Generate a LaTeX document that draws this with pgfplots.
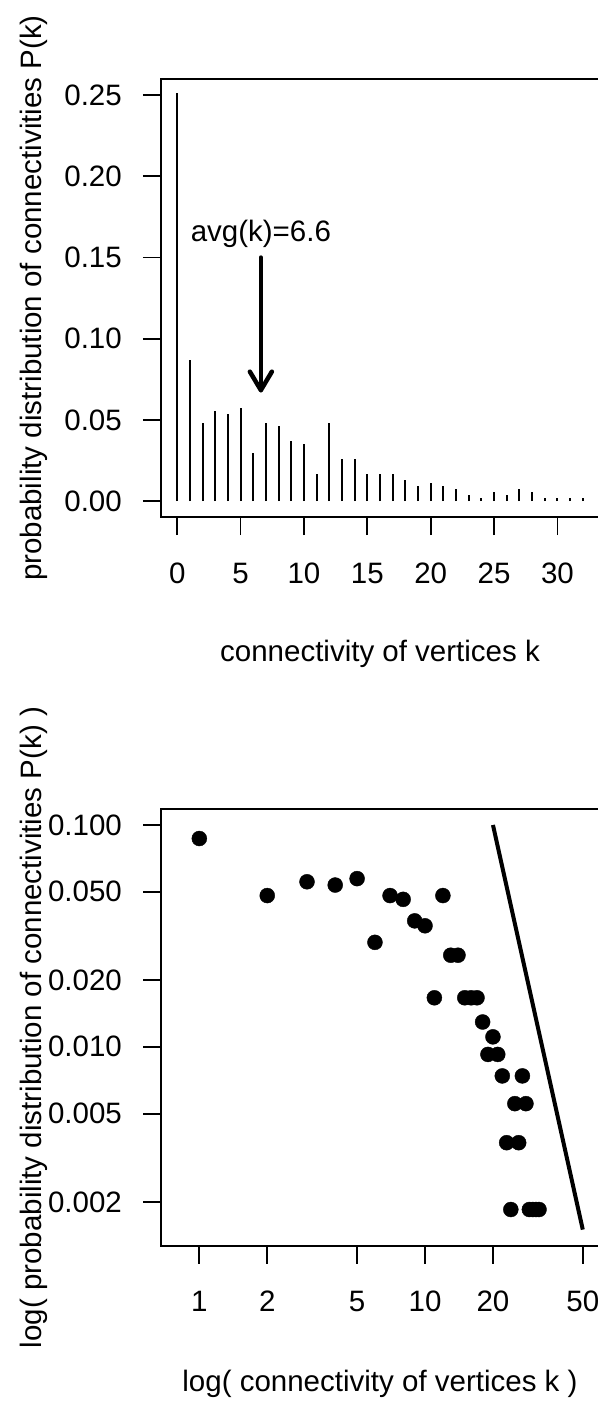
\documentclass[border=0pt]{standalone}
\usepackage{fontspec}
\setmainfont{Liberation Sans}
\usepackage{pgfplots}
\usepackage{pgfplotstable}
\pgfplotsset{compat=1.18}

% degree distribution of the network: k and P(k) = n_k / 541
\pgfplotstableread{
k p
0 0.251386
1 0.086876
2 0.048059
3 0.055453
4 0.053604
5 0.057301
6 0.029575
7 0.048059
8 0.046211
9 0.036969
10 0.035120
11 0.016636
12 0.048059
13 0.025878
14 0.025878
15 0.016636
16 0.016636
17 0.016636
18 0.012939
19 0.009242
20 0.011091
21 0.009242
22 0.007394
23 0.003697
24 0.001848
25 0.005545
26 0.003697
27 0.007394
28 0.005545
29 0.001848
30 0.001848
31 0.001848
32 0.001848
}\degdist

% reference power-law line
\pgfplotstableread{
k p
20 0.1
50 0.0015
}\powerline

\pgfplotsset{
  rstyle/.style={
    scale only axis,
    axis line style={line width=1.8bp},
    tick style={line width=1.8bp, black},
    tick align=outside,
    major tick length=18bp,
    xtick pos=bottom, ytick pos=left,
    /pgf/number format/assume math mode=true,
    xticklabel style={anchor=base, inner sep=0pt, yshift=-48bp},
    yticklabel style={anchor=east, inner sep=0pt, xshift=-21bp},
  },
}

\begin{document}
\fontsize{29.5bp}{35bp}\selectfont
\begin{tikzpicture}
\useasboundingbox (0,0) rectangle (598bp,-1401bp);

\begin{axis}[rstyle,
  at={(161bp,-79bp)}, anchor=north west,
  width=438bp, height=438bp,
  xmin=-1.28, xmax=33.28, ymin=-0.00985, ymax=0.26,
  xtick={0,5,10,15,20,25,30},
  xticklabels={0,5,10,15,20,25,30},
  ytick={0,0.05,0.1,0.15,0.2,0.25},
  yticklabels={0.00,0.05,0.10,0.15,0.20,0.25},
  xlabel={connectivity of vertices k},
  ylabel={probability distribution of connectivities P(k)},
  every axis x label/.style={at={(axis description cs:0.5,-0.331)}, anchor=base},
  every axis y label/.style={at={(axis description cs:-0.272,0.5)}, rotate=90, anchor=base},
]
\addplot[ycomb, line width=2bp, black] table[x=k, y=p]{\degdist};
\node[anchor=base, inner sep=0pt] at (axis cs:6.6,0.16) {avg(k)=6.6};
\draw[line width=4.5bp, line cap=round, line join=round]
  (axis cs:6.6,0.15) -- (axis cs:6.6,0.0683);
\draw[line width=4.5bp, line cap=round, line join=round]
  ([xshift=-11bp, yshift=18.5bp]axis cs:6.6,0.0683) -- (axis cs:6.6,0.0683)
  -- ([xshift=11bp, yshift=18.5bp]axis cs:6.6,0.0683);
\end{axis}

\begin{axis}[rstyle,
  at={(161bp,-809bp)}, anchor=north west,
  width=438bp, height=437bp,
  xmode=log, ymode=log,
  xmin=0.6765, xmax=59.0, ymin=0.001265, ymax=0.1180,
  xtick={1,2,5,10,20,50},
  xticklabels={1,2,5,10,20,50},
  ytick={0.002,0.005,0.01,0.02,0.05,0.1},
  yticklabels={0.002,0.005,0.010,0.020,0.050,0.100},
  minor tick num=0,
  xlabel={log( connectivity of vertices k )},
  ylabel={log( probability distribution of connectivities P(k) )},
  every axis x label/.style={at={(axis description cs:0.5,-0.333)}, anchor=base},
  every axis y label/.style={at={(axis description cs:-0.272,0.5)}, rotate=90, anchor=base},
]
\addplot[only marks, mark=*, mark size=7.5bp, black]
  table[x=k, y=p, skip coords between index={0}{1}]{\degdist};
\addplot[line width=4bp, black] table[x=k, y=p]{\powerline};
\end{axis}
\end{tikzpicture}
\end{document}
